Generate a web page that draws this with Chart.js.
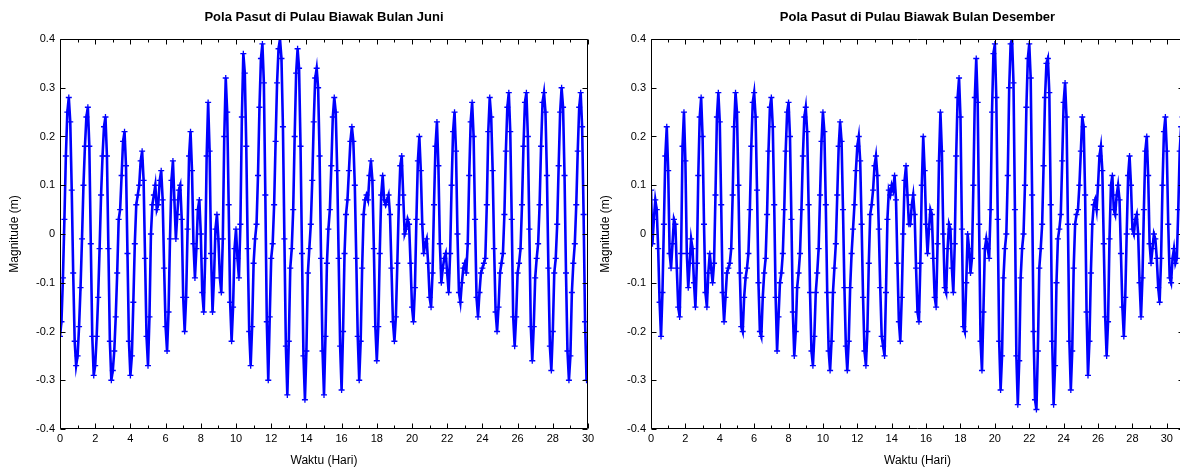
<!DOCTYPE html>
<html>
<head>
<meta charset="utf-8">
<script src="https://cdn.jsdelivr.net/npm/chart.js@4.4.1/dist/chart.umd.min.js"></script>
<style>
  html, body { margin: 0; padding: 0; background: #fff; overflow: hidden; }
  body { width: 1180px; height: 469px; position: relative; }
  .box { position: absolute; top: 0; height: 469px; width: 600px; }
</style>
</head>
<body>
<div class="box" style="left:0"><canvas id="juni"></canvas></div>
<div class="box" style="left:591px"><canvas id="desember"></canvas></div>
<script>
// hourly tide, one value every 2 hours (12 per day)
const STEP_DAYS = 2 / 24;

const juniLevel = [
  -0.21,-0.18,-0.09,0.03,0.16,0.25,0.28,0.23,0.09,-0.08,-0.22,-0.27,
  -0.25,-0.19,-0.11,-0.01,0.10,0.18,0.24,0.26,0.18,-0.02,-0.21,-0.29,
  -0.27,-0.21,-0.13,-0.03,0.08,0.16,0.22,0.24,0.16,-0.03,-0.22,-0.30,
  -0.28,-0.24,-0.17,-0.08,0.03,0.05,0.12,0.19,0.21,0.14,-0.04,-0.22,
  -0.29,-0.25,-0.14,-0.02,0.06,0.08,0.10,0.15,0.17,0.11,-0.05,-0.21,
  -0.27,-0.17,0.00,0.06,0.08,0.10,0.05,0.06,0.11,0.13,0.07,-0.07,
  -0.19,-0.24,-0.16,-0.01,0.11,0.15,0.07,-0.01,0.04,0.09,0.10,0.03,
  -0.13,-0.20,-0.13,0.01,0.16,0.21,0.13,-0.02,-0.09,-0.03,0.05,0.07,
  0.00,-0.12,-0.16,-0.05,0.16,0.27,0.17,-0.04,-0.16,-0.09,0.01,0.04,
  -0.01,-0.09,-0.12,-0.01,0.20,0.32,0.25,0.06,-0.14,-0.22,-0.15,-0.03,
  0.01,-0.05,-0.09,0.02,0.24,0.37,0.33,0.18,-0.03,-0.20,-0.27,-0.19,
  -0.06,-0.01,0.02,0.12,0.26,0.36,0.39,0.31,0.08,-0.18,-0.30,-0.17,
  -0.05,-0.02,0.06,0.19,0.31,0.38,0.40,0.36,0.22,-0.01,-0.23,-0.33,
  -0.22,-0.07,-0.03,0.05,0.20,0.33,0.38,0.34,0.18,-0.04,-0.25,-0.34,
  -0.24,-0.08,-0.03,0.02,0.11,0.23,0.32,0.34,0.30,0.16,-0.05,-0.24,
  -0.33,-0.21,-0.06,0.01,0.05,0.14,0.24,0.28,0.25,0.13,-0.05,-0.23,
  -0.32,-0.20,-0.04,0.04,0.07,0.13,0.19,0.22,0.19,0.10,-0.05,-0.21,
  -0.30,-0.22,-0.07,0.04,0.07,0.08,0.07,0.12,0.15,0.11,-0.03,-0.19,
  -0.26,-0.19,-0.04,0.08,0.12,0.07,0.06,0.07,0.08,0.04,-0.07,-0.18,
  -0.22,-0.17,-0.06,0.06,0.14,0.16,0.08,0.00,0.01,0.03,0.02,-0.06,
  -0.15,-0.18,-0.11,0.03,0.15,0.20,0.13,0.02,-0.04,-0.02,-0.01,-0.06,
  -0.13,-0.15,-0.08,0.06,0.18,0.23,0.14,-0.02,-0.10,-0.07,-0.05,-0.04,
  -0.08,-0.12,-0.04,0.10,0.21,0.25,0.17,0.00,-0.12,-0.14,-0.10,-0.07,
  -0.06,-0.08,-0.02,0.12,0.23,0.27,0.20,0.03,-0.13,-0.17,-0.12,-0.08,
  -0.07,-0.06,-0.05,0.06,0.21,0.28,0.24,0.13,-0.03,-0.16,-0.20,-0.15,
  -0.08,-0.06,-0.04,0.04,0.17,0.26,0.29,0.21,0.03,-0.17,-0.23,-0.17,
  -0.08,-0.06,-0.03,0.06,0.18,0.27,0.29,0.20,0.01,-0.19,-0.26,-0.19,
  -0.09,-0.05,-0.02,0.06,0.18,0.27,0.29,0.25,0.12,-0.07,-0.23,-0.28,
  -0.20,-0.08,-0.05,0.02,0.14,0.25,0.30,0.26,0.12,-0.08,-0.24,-0.30,
  -0.25,-0.12,-0.06,-0.02,0.06,0.17,0.26,0.29,0.22,0.04,-0.18,-0.30,
  -0.28
];

const desemberLevel = [
  0.09,-0.02,0.03,0.07,0.05,-0.03,-0.14,-0.21,-0.12,0.02,0.16,0.22,
  0.13,-0.04,-0.07,-0.02,0.03,0.02,-0.07,-0.15,-0.17,-0.04,0.18,0.25,
  0.15,-0.04,-0.11,-0.06,-0.01,-0.03,-0.10,-0.15,-0.06,0.12,0.24,0.28,
  0.20,0.02,-0.12,-0.15,-0.08,-0.04,-0.07,-0.10,-0.06,0.08,0.24,0.29,
  0.23,0.06,-0.12,-0.18,-0.13,-0.08,-0.07,-0.06,-0.03,0.08,0.22,0.29,
  0.25,0.10,-0.08,-0.19,-0.20,-0.13,-0.09,-0.07,-0.04,0.05,0.18,0.27,
  0.29,0.24,0.09,-0.10,-0.20,-0.21,-0.13,-0.08,-0.05,0.04,0.17,0.26,
  0.28,0.22,0.06,-0.13,-0.24,-0.17,-0.10,-0.08,-0.04,0.05,0.17,0.25,
  0.27,0.20,0.03,-0.16,-0.25,-0.20,-0.11,-0.08,-0.04,0.05,0.16,0.24,
  0.26,0.21,0.06,-0.12,-0.24,-0.27,-0.21,-0.12,-0.08,-0.03,0.08,0.19,
  0.25,0.21,0.06,-0.12,-0.24,-0.28,-0.22,-0.12,-0.07,-0.02,0.08,0.18,
  0.23,0.19,0.05,-0.11,-0.23,-0.28,-0.22,-0.11,-0.04,0.01,0.06,0.13,
  0.18,0.20,0.15,0.02,-0.13,-0.24,-0.27,-0.20,-0.06,0.04,0.06,0.09,
  0.14,0.16,0.12,0.01,-0.11,-0.21,-0.23,-0.25,-0.12,0.03,0.09,0.08,
  0.10,0.09,0.12,0.07,-0.06,-0.18,-0.22,-0.13,0.00,0.11,0.14,0.08,
  0.02,0.02,0.06,0.08,0.04,-0.07,-0.16,-0.18,-0.06,0.10,0.20,0.13,
  0.02,-0.04,0.01,0.05,0.04,-0.05,-0.13,-0.15,-0.02,0.15,0.25,0.17,
  0.00,-0.11,-0.12,-0.03,0.02,0.01,-0.07,-0.12,-0.02,0.16,0.28,0.32,
  0.24,0.01,-0.19,-0.20,-0.10,0.00,-0.03,-0.08,-0.05,0.10,0.28,0.36,
  0.27,0.02,-0.22,-0.28,-0.16,-0.03,-0.01,-0.03,-0.05,0.05,0.25,0.37,
  0.39,0.28,0.03,-0.22,-0.32,-0.25,-0.09,-0.03,0.00,0.12,0.30,0.39,
  0.40,0.31,0.05,-0.25,-0.35,-0.26,-0.09,-0.03,0.00,0.10,0.26,0.36,
  0.39,0.32,0.08,-0.20,-0.34,-0.36,-0.24,-0.07,-0.03,0.02,0.14,0.28,
  0.35,0.36,0.29,0.06,-0.22,-0.35,-0.27,-0.10,-0.01,0.01,0.04,0.15,
  0.27,0.31,0.24,0.02,-0.22,-0.32,-0.24,-0.07,0.02,0.04,0.05,0.10,
  0.17,0.24,0.22,0.08,-0.16,-0.29,-0.22,-0.08,0.02,0.06,0.07,0.05,
  0.10,0.16,0.18,0.13,-0.02,-0.17,-0.25,-0.18,-0.01,0.10,0.12,0.05,
  0.04,0.08,0.10,0.07,-0.04,-0.15,-0.21,-0.13,0.00,0.12,0.16,0.10,
  0.01,0.00,0.03,0.04,0.00,-0.10,-0.17,-0.09,0.05,0.17,0.20,0.12,
  -0.02,-0.06,-0.03,0.00,-0.01,-0.05,-0.11,-0.14,-0.05,0.10,0.21,0.24,
  0.17,0.02,-0.09,-0.10,-0.05,-0.03,-0.06,-0.05,0.05,0.17,0.22,0.24
];

// axes
const Y_MIN = -0.4, Y_MAX = 0.4, Y_STEP = 0.1;
const X_STEP = 2;

Chart.defaults.font.family = 'Arial, "Liberation Sans", Helvetica, sans-serif';
Chart.defaults.font.size = 11;
Chart.defaults.color = '#000';

// matlab-like box with inward ticks on all four sides
const frame = {
  id: 'frame',
  afterDatasetsDraw(chart) {
    const { ctx, chartArea: a, scales: { x, y } } = chart;
    const L = Math.round(a.left) + 0.5, R = Math.round(a.right) - 0.5;
    const T = Math.round(a.top) + 0.5, B = Math.round(a.bottom) - 0.5;
    ctx.save();
    ctx.strokeStyle = '#000';
    ctx.lineWidth = 1;
    ctx.beginPath();
    ctx.rect(L, T, R - L, B - T);
    for (let d = x.min; d <= x.max; d++) {
      const px = Math.round(x.getPixelForValue(d)) + 0.5;
      const len = d % 2 ? 3 : 5;
      ctx.moveTo(px, B); ctx.lineTo(px, B - len);
      ctx.moveTo(px, T); ctx.lineTo(px, T + len);
    }
    for (let k = 0; k <= Math.round((Y_MAX - Y_MIN) / Y_STEP); k++) {
      const py = Math.round(y.getPixelForValue(Y_MIN + k * Y_STEP)) + 0.5;
      ctx.moveTo(L, py); ctx.lineTo(L + 5, py);
      ctx.moveTo(R, py); ctx.lineTo(R - 5, py);
    }
    ctx.stroke();
    ctx.restore();
  }
};

function makeChart(canvasId, title, level, xMax, padRight) {
  const pts = level.map((v, i) => ({ x: i * STEP_DAYS, y: v }));
  return new Chart(document.getElementById(canvasId), {
    type: 'line',
    data: {
      datasets: [{
        data: pts,
        borderColor: '#0000ff',
        backgroundColor: '#0000ff',
        borderWidth: 2.6,
        tension: 0,
        pointStyle: 'cross',
        pointRadius: 3,
        pointBorderWidth: 1.3,
        pointBorderColor: '#0000ff'
      }]
    },
    options: {
      responsive: true,
      maintainAspectRatio: false,
      animation: false,
      layout: { padding: { left: 0, right: padRight, top: 0, bottom: 0 } },
      plugins: {
        legend: { display: false },
        tooltip: { enabled: false },
        title: {
          display: true,
          text: title,
          fullSize: false,
          font: { size: 13, weight: 'bold' },
          padding: { top: 10, bottom: 13.4 }
        }
      },
      scales: {
        x: {
          type: 'linear',
          min: 0,
          max: xMax,
          grid: { display: false, drawTicks: false },
          border: { display: false },
          ticks: { stepSize: X_STEP, includeBounds: false, padding: 3, maxRotation: 0 },
          title: { display: true, text: 'Waktu (Hari)', font: { size: 12 }, padding: { top: 0, bottom: 1 } },
          afterFit: s => { s.height = 40; }
        },
        y: {
          min: Y_MIN,
          max: Y_MAX,
          grid: { display: false, drawTicks: false },
          border: { display: false },
          ticks: { stepSize: Y_STEP, padding: 5 },
          title: { display: true, text: 'Magnitude (m)', font: { size: 12 }, padding: { top: 7, bottom: 0 } },
          afterFit: s => { s.width = 60; }
        }
      }
    },
    plugins: [frame]
  });
}

makeChart('juni', 'Pola Pasut di Pulau Biawak Bulan Juni', juniLevel, 30, 12);
makeChart('desember', 'Pola Pasut di Pulau Biawak Bulan Desember', desemberLevel, 31, 7);
</script>
</body>
</html>
